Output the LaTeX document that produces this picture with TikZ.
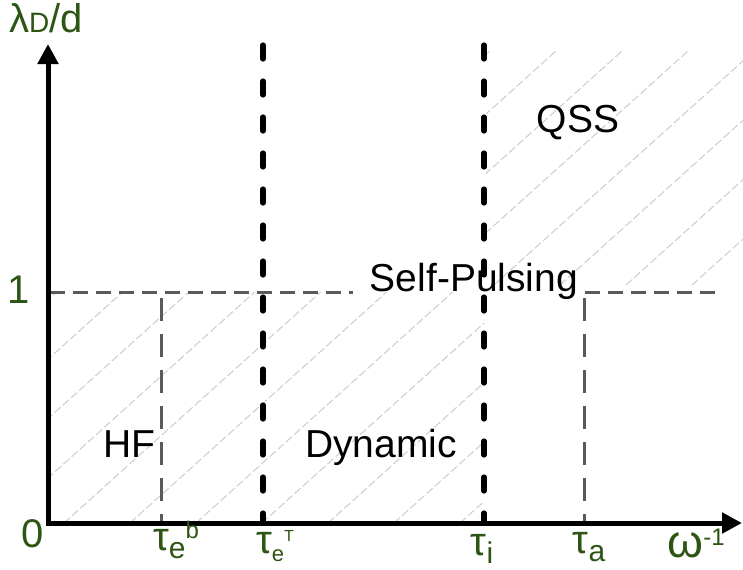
\documentclass[tikz,border=0pt]{standalone}
\usepackage{fontspec}
\setmainfont{Liberation Sans}
\usetikzlibrary{arrows.meta}
\definecolor{zelena}{RGB}{45,85,20}
\definecolor{seda}{RGB}{90,90,90}
\begin{document}
\begin{tikzpicture}[x=0.5pt,y=-0.5pt]
    \tikzstyle{osa}= [black, line width=2.5pt, line join=miter, {Triangle[length=10pt,width=10pt]}-{Triangle[length=10pt,width=10pt]}]
    \tikzstyle{hraniceA}= [black, line width=2.6pt, line cap=round, dash pattern=on 7pt off 11pt]
    \tikzstyle{hraniceB}= [seda, line width=1.5pt, dash pattern=on 11.5pt off 6.5pt]
    \tikzstyle{jedna}= [seda, line width=1.5pt, dash pattern=on 7.5pt off 4pt]
    \tikzstyle{srafy}= [gray!40, line width=0.5pt, dash pattern=on 4pt off 1.5pt]
    \tikzstyle{popis}= [zelena, font=\fontsize{20}{24}\selectfont, anchor=base, inner sep=0pt]
    \tikzstyle{oblast}= [black, font=\fontsize{19.5}{23}\selectfont, anchor=base]
  \def\dole#1{\raisebox{-4pt}{\fontsize{15}{15}\selectfont #1}}
  \def\hore#1{\raisebox{6pt}{\fontsize{12}{12}\selectfont #1}}
  \useasboundingbox (0,0) rectangle (743,569);

  % srafovani
  \begin{scope}
    \clip (48,292) rectangle (484,523);
    \foreach \k in {-200,-134,...,480}
      \draw[srafy] (\k,523) -- ++(260,-234);
  \end{scope}
  \begin{scope}
    \clip (486,50) rectangle (743,285);
    \foreach \k in {230,296,...,740}
      \draw[srafy] (\k,285) -- ++(270,-243);
  \end{scope}

  \coordinate (O) at (48,523);
  \coordinate (ytop) at (48,44);
  \coordinate (xend) at (742,523);
  \coordinate (j) at (50,292);
  \coordinate (jend) at (715,292);

  \foreach \n/\x/\h/\s in {teb/161/298/B,teT/263/45/A,ti/484/45/A,ta/584/298/B} {
    \coordinate (\n-hor) at (\x,\h);
    \coordinate (\n-dol) at (\x,523);
    \draw[hranice\s] (\n-hor) -- (\n-dol);
  }

  \node[oblast] (sp) at (474,291) {Self-Pulsing};
  \draw[jedna, shorten >=5pt] (j) -- (sp.west |- j);
  \draw[jedna] (sp.east |- j) -- (jend);

  \draw[osa] (ytop) -- (O) -- (xend);

  \node[oblast] (hf) at (129,457) {HF};
  \node[oblast] (dyn) at (381,457) {Dynamic};
  \node[oblast] (qss) at (578,132) {QSS};

  \node[popis] (yl) at (46,32) {λ{\fontsize{14}{14}\selectfont D}/d};
  \node[popis] (l1) at (19,303) {1};
  \node[popis] (l0) at (33,547) {0};
  \node[popis] (lteb) at (176,550) {τ\dole{e}\hore{b}};
  \node[popis] (lteT) at (275,553) {τ{\fontsize{11}{11}\selectfont\raisebox{-4pt}{e}\raisebox{6pt}{\fontsize{8}{8}\selectfont T}}};
  \node[popis] (lti) at (482,555) {τ\dole{i}};
  \node[popis] (lta) at (589,553) {τ\dole{a}};
  \node[popis] (lw) at (696,557) {{\fontsize{23}{23}\selectfont ω}\hore{-1}};

\end{tikzpicture}
\end{document}
